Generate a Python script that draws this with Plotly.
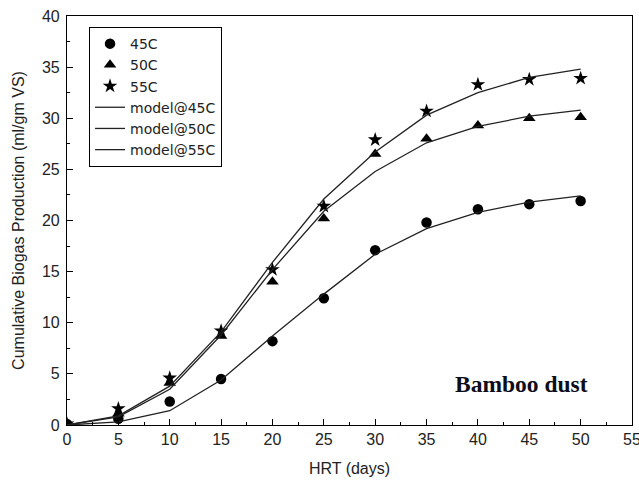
import plotly.graph_objects as go

hrt = [0, 5, 10, 15, 20, 25, 30, 35, 40, 45, 50]
obs45 = [0.1, 0.6, 2.3, 4.5, 8.2, 12.4, 17.1, 19.8, 21.1, 21.6, 21.9]
obs50 = [0.1, 1.1, 4.1, 8.7, 14.0, 20.2, 26.5, 28.0, 29.3, 30.0, 30.1]
obs55 = [0.1, 1.6, 4.6, 9.2, 15.2, 21.4, 27.9, 30.7, 33.3, 33.8, 33.9]
mod45 = [0.0, 0.3, 1.4, 4.4, 8.7, 12.8, 16.7, 19.2, 20.8, 21.8, 22.4]
mod50 = [0.0, 0.8, 3.5, 8.8, 15.2, 20.9, 24.8, 27.6, 29.2, 30.2, 30.8]
mod55 = [0.0, 0.9, 3.8, 9.1, 15.9, 22.1, 26.7, 30.3, 32.5, 34.0, 34.8]

fig = go.Figure()
fig.add_trace(go.Scatter(x=hrt, y=obs45, mode="markers", name="45C",
                         marker=dict(symbol="circle", size=10.5, color="black")))
fig.add_trace(go.Scatter(x=hrt, y=obs50, mode="markers", name="50C",
                         marker=dict(symbol="triangle-up", size=11, color="black")))
fig.add_trace(go.Scatter(x=hrt, y=obs55, mode="markers", name="55C",
                         marker=dict(symbol="star", size=11, color="black")))
for nm, ys in [("model@45C", mod45), ("model@50C", mod50), ("model@55C", mod55)]:
    fig.add_trace(go.Scatter(x=hrt, y=ys, mode="lines", name=nm,
                             line=dict(color="#222", width=1.3)))

FONT = "Liberation Sans, Arial"
axis_common = dict(
    showline=True, linecolor="black", linewidth=1.2, mirror=True,
    ticks="inside", ticklen=6, tickcolor="black", tickwidth=1,
    showgrid=False, zeroline=False, automargin=False,
    ticklabeloverflow="allow",
    tickfont=dict(family=FONT, size=16, color="#222"),
    minor=dict(ticks="inside", ticklen=3, tickcolor="black", dtick=2.5),
)

fig.update_layout(
    width=639, height=481,
    margin=dict(l=67, r=7, t=16, b=56),
    paper_bgcolor="white", plot_bgcolor="white",
    showlegend=True,
    legend=dict(x=0.039, y=0.973, xanchor="left", yanchor="top",
                bordercolor="black", borderwidth=1, bgcolor="white",
                font=dict(family="DejaVu Sans", size=14, color="#222"),
                tracegroupgap=0, itemwidth=30),
    xaxis=dict(range=[0, 55], dtick=5, tick0=0,
               title=dict(text="HRT (days)", standoff=15,
                          font=dict(family=FONT, size=16, color="#222")),
               **axis_common),
    yaxis=dict(range=[0, 40], dtick=5, tick0=0, ticklabelstandoff=3,
               title=dict(text="Cumulative Biogas Production (ml/gm VS)", standoff=13,
                          font=dict(family=FONT, size=16, color="#222")),
               **axis_common),
    annotations=[dict(x=0.805, y=0.100, xref="paper", yref="paper",
                      xanchor="center", yanchor="middle",
                      text="<b>Bamboo dust</b>", showarrow=False,
                      font=dict(family="Liberation Serif, Times New Roman", size=23.5, color="#0d0d1a"))],
)

fig.write_html("out.html", config={"displayModeBar": False},
               post_script="document.body.style.margin='0';document.body.style.overflow='hidden';")
